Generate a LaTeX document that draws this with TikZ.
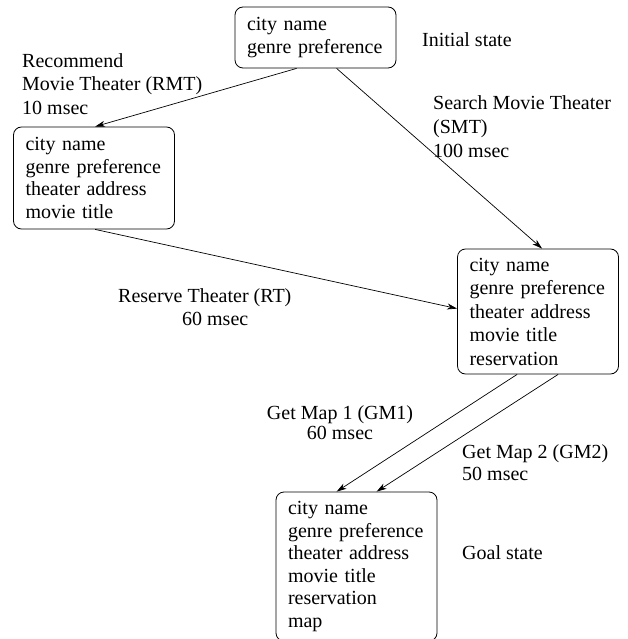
\documentclass[tikz,border=0pt]{standalone}
\usepackage{fontspec}
\setmainfont{Liberation Serif}
\usetikzlibrary{arrows.meta}
\begin{document}
\begin{tikzpicture}[x=1pt,y=-1pt,
  state/.style={draw, line width=0.8pt, rounded corners=8pt, align=left,
    text width=137pt, inner xsep=12pt, inner ysep=0pt, anchor=center},
  lbl/.style={inner sep=0pt, align=left},
  conn/.style={line width=0.7pt, -{Stealth[length=10pt,width=6pt,inset=3pt]}}]
\useasboundingbox (0,0) rectangle (627,639);
\node[state, minimum height=61pt, font=\fontsize{20}{23}\selectfont] (b1) at (315.5,37.5)
  {city name\\genre preference};
\node[state, minimum height=102pt, font=\fontsize{20}{22.7}\selectfont] (b2) at (94,178)
  {city name\\genre preference\\theater address\\movie title};
\node[state, minimum height=125pt, font=\fontsize{20}{23.5}\selectfont] (b3) at (538,311.5)
  {city name\\genre preference\\theater address\\movie title\\reservation};
\node[state, minimum height=149pt, font=\fontsize{20}{22.6}\selectfont] (b4) at (356.5,566.5)
  {city name\\genre preference\\theater address\\movie title\\reservation\\map};

\node[lbl, anchor=base west, font=\fontsize{20}{23}\selectfont] (init) at (422,47) {Initial state};
\node[lbl, anchor=base west, font=\fontsize{20}{23}\selectfont] (goal) at (462,559) {Goal state};
\node[lbl, anchor=north west, font=\fontsize{20}{23.5}\selectfont] (rmt) at (22,53.2)
  {Recommend\\Movie Theater (RMT)\\10 msec};
\node[lbl, anchor=north west, font=\fontsize{20}{24}\selectfont] (smt) at (433,95.2)
  {Search Movie Theater\\(SMT)\\100 msec};
\node[lbl, anchor=north west, font=\fontsize{20}{23}\selectfont] (rt) at (118,288.1)
  {Reserve Theater (RT)\\\hspace*{64pt}60 msec};
\node[lbl, anchor=north, align=center, font=\fontsize{20}{19.5}\selectfont] (gm1) at (340,405.5)
  {Get Map 1 (GM1)\\60 msec};
\node[lbl, anchor=north west, font=\fontsize{20}{22}\selectfont] (gm2) at (462,444.1)
  {Get Map 2 (GM2)\\50 msec};

\draw[conn] ([xshift=62pt]b1.south west) -- ([xshift=82pt]b2.north west);
\draw[conn] ([xshift=102pt]b1.south west) -- ([xshift=85pt]b3.north west);
\draw[conn] ([xshift=82pt]b2.south west) -- ([yshift=-60pt]b3.north west);
\draw[conn] ([xshift=60pt]b3.south west) -- ([xshift=61pt]b4.north west);
\draw[conn] ([xshift=101pt]b3.south west) -- ([xshift=101pt]b4.north west);
\end{tikzpicture}
\end{document}
